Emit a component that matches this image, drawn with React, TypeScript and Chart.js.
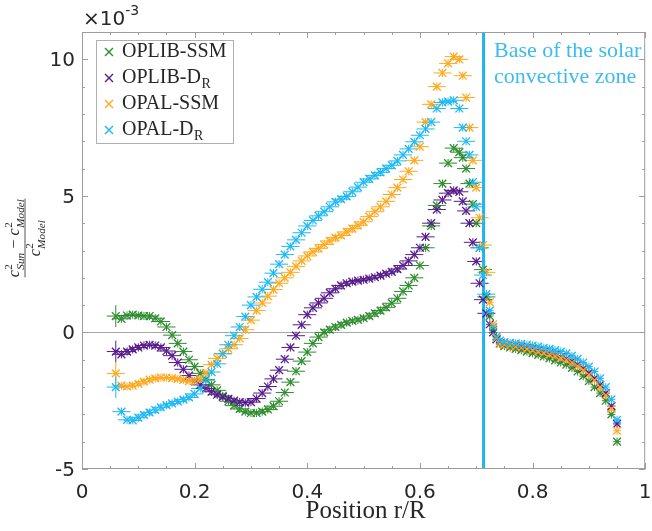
import React, { useEffect, useRef } from 'react';
import { Chart, registerables } from 'chart.js';
Chart.register(...registerables);

// Radial positions r/R of the inversion points
const R_POS = [
  0.06, 0.07, 0.08, 0.09, 0.10, 0.11, 0.12, 0.13, 0.14, 0.15,
  0.16, 0.17, 0.18, 0.19, 0.20, 0.21, 0.22, 0.23, 0.24, 0.25,
  0.26, 0.27, 0.28, 0.29, 0.30, 0.31, 0.32, 0.33, 0.34, 0.35,
  0.36, 0.37, 0.38, 0.39, 0.40, 0.41, 0.42, 0.43, 0.44, 0.45,
  0.46, 0.47, 0.48, 0.49, 0.50, 0.51, 0.52, 0.53, 0.54, 0.55,
  0.56, 0.57, 0.58, 0.59, 0.60, 0.61, 0.62, 0.63, 0.64, 0.65,
  0.66, 0.67,
  0.676, 0.682, 0.688, 0.694, 0.700, 0.706, 0.712, 0.718, 0.724, 0.730, 0.736, 0.742,
  0.75, 0.76, 0.77, 0.78, 0.79, 0.80, 0.81, 0.82, 0.83, 0.84,
  0.85, 0.86, 0.87, 0.88, 0.89, 0.90, 0.91, 0.92, 0.93, 0.94, 0.95,
];

// Relative squared sound-speed differences (x 1e-3)
const OPLIB_SSM = [
  0.6, 0.5, 0.62, 0.65, 0.62, 0.6, 0.6, 0.52, 0.4, 0.2,
  -0.1, -0.4, -0.7, -1.0, -1.25, -1.5, -1.72, -1.92, -2.12, -2.32,
  -2.52, -2.68, -2.8, -2.9, -2.95, -2.95, -2.9, -2.82, -2.7, -2.52,
  -2.2, -1.82, -1.42, -1.05, -0.72, -0.4, -0.17, 0.0, 0.1, 0.2,
  0.28, 0.36, 0.42, 0.46, 0.52, 0.6, 0.7, 0.8, 0.92, 1.07,
  1.25, 1.5, 1.72, 2.0, 2.45, 3.1, 3.9, 4.65, 5.45, 6.2,
  6.75, 6.6,
  6.4, 6.0, 5.45, 4.7, 4.0, 3.1, 2.3, 1.3, 0.6, 0.1, -0.25, -0.42,
  -0.5, -0.55, -0.6, -0.65, -0.7, -0.76, -0.82, -0.88, -0.95, -1.02,
  -1.1, -1.18, -1.3, -1.43, -1.6, -1.78, -2.0, -2.22, -2.5, -3.0, -4.0,
];

const OPLIB_DR = [
  -0.7, -0.8, -0.7, -0.62, -0.55, -0.48, -0.45, -0.48, -0.55, -0.68,
  -0.85, -1.1, -1.35, -1.58, -1.78, -1.92, -2.05, -2.17, -2.28, -2.36,
  -2.43, -2.5, -2.55, -2.57, -2.55, -2.42, -2.22, -1.98, -1.7, -1.38,
  -0.98, -0.55, -0.12, 0.28, 0.65, 0.9, 1.08, 1.25, 1.45, 1.6,
  1.72, 1.8, 1.86, 1.9, 1.93, 1.97, 2.02, 2.08, 2.15, 2.22,
  2.32, 2.45, 2.62, 2.85, 3.1, 3.5, 4.0, 4.5, 4.85, 5.1,
  5.2, 5.15,
  4.8, 4.45, 4.0, 3.3, 2.6, 1.8, 1.2, 0.7, 0.3, 0.0, -0.25, -0.4,
  -0.45, -0.47, -0.5, -0.53, -0.57, -0.62, -0.67, -0.72, -0.77, -0.83,
  -0.9, -0.97, -1.06, -1.18, -1.32, -1.48, -1.68, -1.92, -2.22, -2.7, -3.35,
];

const OPAL_SSM = [
  -1.5, -1.95, -1.98, -1.95, -1.88, -1.8, -1.73, -1.68, -1.65, -1.65,
  -1.67, -1.7, -1.74, -1.78, -1.78, -1.7, -1.48, -1.18, -0.95, -0.78,
  -0.6, -0.45, -0.22, 0.1, 0.45, 0.8, 1.08, 1.33, 1.57, 1.8,
  2.0, 2.2, 2.42, 2.62, 2.8, 2.95, 3.08, 3.22, 3.35, 3.47,
  3.55, 3.68, 3.8, 3.92, 4.05, 4.24, 4.42, 4.6, 4.8, 5.05,
  5.3, 5.6, 5.9, 6.3, 6.8, 7.7, 8.35, 9.0, 9.5, 9.85,
  10.1, 10.0,
  9.4, 8.6, 7.5, 6.3, 5.3, 4.2, 3.2, 2.2, 1.1, 0.3, -0.2, -0.42,
  -0.45, -0.48, -0.52, -0.56, -0.6, -0.65, -0.7, -0.75, -0.8, -0.86,
  -0.93, -1.0, -1.1, -1.23, -1.38, -1.55, -1.75, -2.0, -2.3, -2.8, -3.6,
];

const OPAL_DR = [
  -2.0, -2.9, -3.2, -3.22, -3.12, -3.02, -2.93, -2.84, -2.74, -2.66,
  -2.6, -2.53, -2.46, -2.38, -2.25, -2.05, -1.75, -1.45, -1.15, -0.78,
  -0.45, -0.12, 0.2, 0.58, 1.0, 1.3, 1.58, 1.84, 2.17, 2.5,
  2.85, 3.15, 3.39, 3.65, 3.9, 4.1, 4.27, 4.42, 4.6, 4.78,
  4.88, 4.98, 5.15, 5.32, 5.5, 5.62, 5.75, 5.86, 6.0, 6.12,
  6.28, 6.5, 6.72, 6.98, 7.22, 7.45, 7.7, 8.2, 8.42, 8.45,
  8.5, 8.2,
  7.5, 7.0, 6.5, 5.5, 4.6, 3.1, 2.1, 1.4, 0.8, 0.2, -0.15, -0.3,
  -0.35, -0.38, -0.4, -0.42, -0.45, -0.48, -0.52, -0.56, -0.6, -0.65,
  -0.7, -0.77, -0.86, -0.97, -1.1, -1.25, -1.43, -1.68, -2.0, -2.45, -3.2,
];

const X_TICKS = [0, 0.2, 0.4, 0.6, 0.8, 1];
const X_TICK_LABELS = ['0', '0.2', '0.4', '0.6', '0.8', '1'];
const Y_TICKS = [-5, 0, 5, 10];
const Y_TICK_LABELS = ['-5', '0', '5', '10'];
const CZ_BASE = 0.713;

const SERIES = [
  { label: 'OPLIB-SSM', name: 'OPLIB-SSM', sub: '', color: '#2d8c2d', values: OPLIB_SSM },
  { label: 'OPLIB-D', name: 'OPLIB-DR', sub: 'R', color: '#561b8c', values: OPLIB_DR },
  { label: 'OPAL-SSM', name: 'OPAL-SSM', sub: '', color: '#ffa81c', values: OPAL_SSM },
  { label: 'OPAL-D', name: 'OPAL-DR', sub: 'R', color: '#1cb8f5', values: OPAL_DR },
];

const SERIF = '"Liberation Serif", "Times New Roman", serif';
const SANS = '"DejaVu Sans", sans-serif';

type Part = { t: string; it?: boolean; sup?: string; sub?: string; subIt?: boolean };

function richText(ctx: CanvasRenderingContext2D, x: number, y: number, parts: Part[], size: number, draw: boolean) {
  let cx = x;
  const ss = size * 0.7;
  for (const p of parts) {
    ctx.font = `${p.it ? 'italic ' : ''}${size}px ${SERIF}`;
    if (draw) ctx.fillText(p.t, cx, y);
    cx += ctx.measureText(p.t).width;
    let w2 = 0;
    if (p.sup) {
      ctx.font = `${ss}px ${SERIF}`;
      if (draw) ctx.fillText(p.sup, cx + 0.5, y - size * 0.42);
      w2 = Math.max(w2, ctx.measureText(p.sup).width);
    }
    if (p.sub) {
      ctx.font = `${p.subIt ? 'italic ' : ''}${ss}px ${SERIF}`;
      if (draw) ctx.fillText(p.sub, cx + 0.5, y + size * 0.3);
      w2 = Math.max(w2, ctx.measureText(p.sub).width);
    }
    if (w2) cx += w2 + 1;
  }
  return cx - x;
}

const decor = {
  id: 'decor',
  beforeDatasetsDraw(chart: any) {
    const { ctx, chartArea: a, scales } = chart;
    const xs = scales.x, ys = scales.y;
    ctx.save();
    ctx.beginPath();
    ctx.rect(a.left, a.top, a.right - a.left, a.bottom - a.top);
    ctx.clip();
    ctx.strokeStyle = '#a8a8a8';
    ctx.lineWidth = 1;
    const y0 = Math.round(ys.getPixelForValue(0)) + 0.5;
    ctx.beginPath();
    ctx.moveTo(a.left, y0);
    ctx.lineTo(a.right, y0);
    ctx.stroke();
    SERIES.forEach((s) => {
      ctx.strokeStyle = s.color;
      ctx.lineWidth = 1;
      ctx.beginPath();
      R_POS.forEach((r, i) => {
        const v = s.values[i];
        const ex = r < 0.72 ? 0.016 : 0.007;
        const ey = i === 0 ? 0.4 : 0.15;
        const px = xs.getPixelForValue(r);
        const py = ys.getPixelForValue(v);
        ctx.moveTo(xs.getPixelForValue(r - ex), py);
        ctx.lineTo(xs.getPixelForValue(r + ex), py);
        ctx.moveTo(px, ys.getPixelForValue(v - ey));
        ctx.lineTo(px, ys.getPixelForValue(v + ey));
      });
      ctx.stroke();
    });
    ctx.strokeStyle = '#1fb4f0';
    ctx.lineWidth = 3;
    const xl = xs.getPixelForValue(CZ_BASE);
    ctx.beginPath();
    ctx.moveTo(xl, a.top);
    ctx.lineTo(xl, a.bottom);
    ctx.stroke();
    ctx.restore();
  },
  afterDraw(chart: any) {
    const { ctx, chartArea: a, scales } = chart;
    const xs = scales.x, ys = scales.y;
    ctx.save();
    ctx.strokeStyle = '#9c9c9c';
    ctx.lineWidth = 1;
    ctx.strokeRect(a.left + 0.5, a.top + 0.5, a.right - a.left - 1, a.bottom - a.top - 1);
    ctx.beginPath();
    for (let k = 0; k <= 20; k++) {
      const v = k * 0.05;
      const len = k % 4 === 0 ? 6 : 3;
      const px = Math.round(xs.getPixelForValue(v)) + 0.5;
      ctx.moveTo(px, a.bottom);
      ctx.lineTo(px, a.bottom - len);
      ctx.moveTo(px, a.top);
      ctx.lineTo(px, a.top + len);
    }
    for (let v = -5; v <= 11; v++) {
      const len = v % 5 === 0 ? 6 : 3;
      const py = Math.round(ys.getPixelForValue(v)) + 0.5;
      ctx.moveTo(a.left, py);
      ctx.lineTo(a.left + len, py);
      ctx.moveTo(a.right, py);
      ctx.lineTo(a.right - len, py);
    }
    ctx.stroke();
    ctx.fillStyle = '#262626';
    ctx.font = `20px ${SANS}`;
    ctx.textBaseline = 'alphabetic';
    ctx.textAlign = 'center';
    X_TICKS.forEach((v, i) => {
      ctx.fillText(X_TICK_LABELS[i], xs.getPixelForValue(v), 498);
    });
    ctx.textAlign = 'right';
    Y_TICKS.forEach((v, i) => {
      ctx.fillText(Y_TICK_LABELS[i], 75, ys.getPixelForValue(v) + 7);
    });
    ctx.textAlign = 'left';
    ctx.font = `20px ${SANS}`;
    ctx.fillText('\u00d710', 83, 25);
    const we = ctx.measureText('\u00d710').width;
    ctx.font = `14px ${SANS}`;
    ctx.fillText('-3', 83 + we, 15);
    ctx.font = `25px ${SERIF}`;
    ctx.textAlign = 'center';
    ctx.fillText('Position r/R', (a.left + a.right) / 2 + 2, 518);
    ctx.textAlign = 'left';
    ctx.save();
    ctx.translate(25, 238);
    ctx.rotate(-Math.PI / 2);
    const num: Part[] = [
      { t: 'c', it: true, sup: '2', sub: 'Sun', subIt: true },
      { t: ' \u2212 ' },
      { t: 'c', it: true, sup: '2', sub: 'Model', subIt: true },
    ];
    const den: Part[] = [{ t: 'c', it: true, sup: '2', sub: 'Model', subIt: true }];
    const fs = 16;
    const wn = richText(ctx, 0, 0, num, fs, false);
    const wd = richText(ctx, 0, 0, den, fs, false);
    richText(ctx, -wn / 2, -6, num, fs, true);
    richText(ctx, -wd / 2, 15, den, fs, true);
    ctx.strokeStyle = '#262626';
    ctx.lineWidth = 0.8;
    ctx.beginPath();
    ctx.moveTo(-wn / 2, 0);
    ctx.lineTo(wn / 2, 0);
    ctx.stroke();
    ctx.restore();
    const lx = 96, ly = 40, lw = 137, lh = 103;
    ctx.fillStyle = '#ffffff';
    ctx.fillRect(lx, ly, lw, lh);
    ctx.strokeStyle = '#b0b0b0';
    ctx.lineWidth = 1;
    ctx.strokeRect(lx + 0.5, ly + 0.5, lw, lh);
    SERIES.forEach((s, i) => {
      const base = 57 + i * 26;
      const my = base - 5;
      ctx.strokeStyle = s.color;
      ctx.lineWidth = 1.4;
      ctx.beginPath();
      ctx.moveTo(105, my - 4);
      ctx.lineTo(113, my + 4);
      ctx.moveTo(113, my - 4);
      ctx.lineTo(105, my + 4);
      ctx.stroke();
      ctx.fillStyle = '#262626';
      ctx.font = `20px ${SERIF}`;
      ctx.textAlign = 'left';
      ctx.fillText(s.label, 122, base);
      if (s.sub) {
        const w = ctx.measureText(s.label).width;
        ctx.font = `14px ${SERIF}`;
        ctx.fillText(s.sub, 122 + w + 0.5, base + 5);
      }
    });
    ctx.fillStyle = '#3bbcee';
    ctx.font = `22px ${SERIF}`;
    ctx.textAlign = 'left';
    ctx.fillText('Base of the solar', 494, 57);
    ctx.fillText('convective zone', 494, 83);
    ctx.restore();
  },
};

export default function App() {
  const ref = useRef<HTMLCanvasElement>(null);
  useEffect(() => {
    const canvas = ref.current;
    if (!canvas) return;
    const datasets = SERIES.map((s, idx) => ({
      label: s.name,
      data: R_POS.map((r, i) => ({ x: r, y: s.values[i] })),
      showLine: false,
      pointStyle: 'crossRot' as const,
      pointRadius: 5.5,
      pointBorderWidth: 1.3,
      borderColor: s.color,
      backgroundColor: s.color,
      order: 3 - idx,
    }));
    const chart = new Chart(canvas, {
      type: 'scatter',
      data: { datasets },
      plugins: [decor],
      options: {
        animation: false,
        responsive: false,
        devicePixelRatio: 1,
        layout: { padding: { top: 32, right: 5, left: 0, bottom: 0 } },
        plugins: { legend: { display: false }, tooltip: { enabled: false } },
        scales: {
          x: {
            type: 'linear',
            min: 0,
            max: 1,
            ticks: { display: false },
            grid: { display: false },
            border: { display: false },
            afterFit: (s: any) => { s.height = 62; },
          },
          y: {
            type: 'linear',
            min: -5,
            max: 11,
            ticks: { display: false },
            grid: { display: false },
            border: { display: false },
            afterFit: (s: any) => { s.width = 82; },
          },
        },
      },
    });
    return () => chart.destroy();
  }, []);
  return (
    <div style={{ position: 'absolute', left: 0, top: 0, width: 652, height: 531, background: '#fff' }}>
      <canvas ref={ref} width={652} height={531} style={{ display: 'block', width: 652, height: 531 }} />
    </div>
  );
}
